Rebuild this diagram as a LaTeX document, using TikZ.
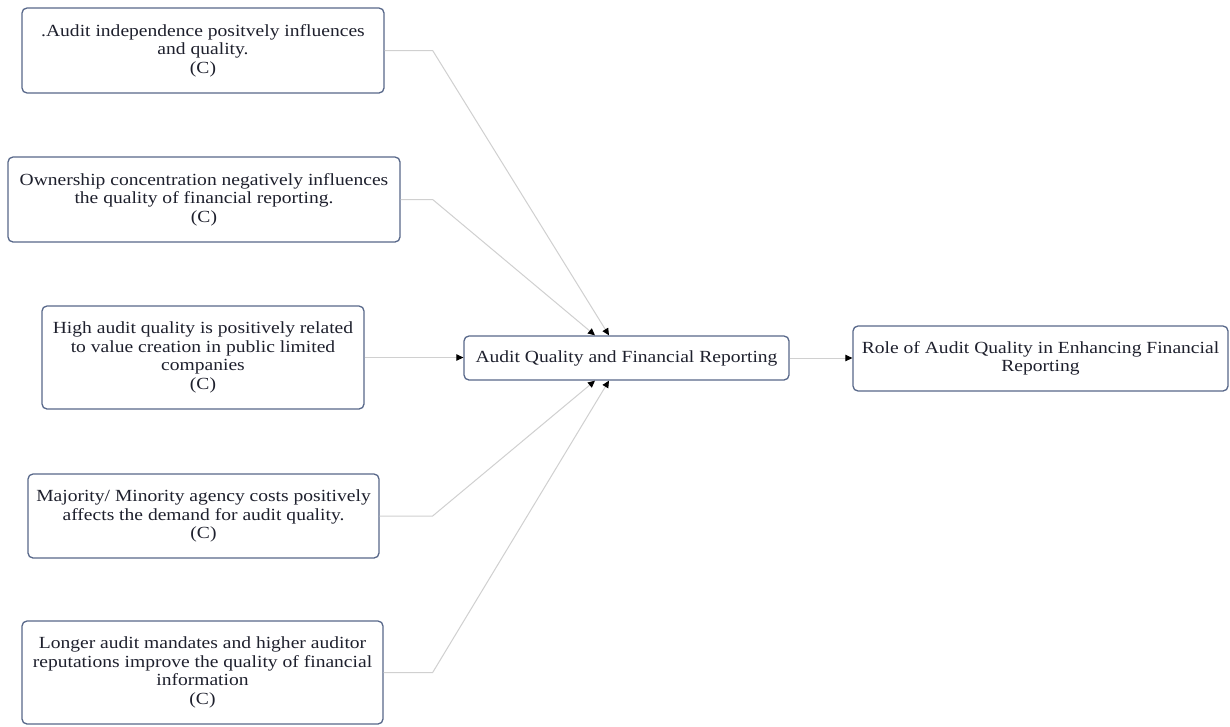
\documentclass[tikz,border=0pt]{standalone}
\usepackage{fontspec}
\setmainfont{Liberation Serif}[FakeStretch=1.15]
\usetikzlibrary{arrows.meta,calc}
\definecolor{boxblue}{RGB}{88,104,138}
\definecolor{linkgray}{RGB}{208,208,208}
\definecolor{inkgray}{RGB}{30,32,45}
\begin{document}
\begin{tikzpicture}[x=1pt,y=-1pt,
  box/.style={draw=boxblue, line width=1.3pt, rounded corners=5pt, fill=white,
    align=center, inner sep=0pt, text=inkgray,
    font=\fontsize{17}{18.5}\selectfont},
  link/.style={draw=linkgray, line width=1pt,
    -{Triangle[length=7pt,width=6.5pt,color=black,fill=black]}},
]
\useasboundingbox (0,0) rectangle (1230,726);
\fill[white] (0,0) rectangle (1230,726);

% findings
\node[box, minimum width=362pt, minimum height=85pt] (n1) at (203,50.5)
  {.Audit independence positvely influences\\ and quality.\\ (C)};
\node[box, minimum width=392pt, minimum height=85pt] (n2) at (204,199.5)
  {Ownership concentration negatively influences\\ the quality of financial reporting.\\ (C)};
\node[box, minimum width=322pt, minimum height=103pt] (n3) at (203,357.5)
  {High audit quality is positively related\\ to value creation in public limited\\ companies\\ (C)};
\node[box, minimum width=351pt, minimum height=84pt] (n4) at (203.5,516)
  {Majority/ Minority agency costs positively\\ affects the demand for audit quality.\\ (C)};
\node[box, minimum width=361pt, minimum height=103pt] (n5) at (202.5,672.5)
  {Longer audit mandates and higher auditor\\ reputations improve the quality of financial\\ information\\ (C)};

% central theme and outcome
\node[box, minimum width=325pt, minimum height=44pt] (c) at (626.5,358)
  {Audit Quality and Financial Reporting};
\node[box, minimum width=375pt, minimum height=65pt] (r) at (1040.5,358.5)
  {Role of Audit Quality in Enhancing Financial\\ Reporting};

% connectors
\draw[link] (n1.east) -- ++(48,0) -- ($(c.north)+(-17.5,0)$);
\draw[link] (n2.east) -- ++(32,0) -- ($(c.north)+(-31.5,0)$);
\draw[link] (n3.east) -- (n3.east -| c.west);
\draw[link] (n4.east) -- ++(53,0) -- ($(c.south)+(-31.5,0)$);
\draw[link] (n5.east) -- ++(49,0) -- ($(c.south)+(-17.5,0)$);
\draw[link] (c.east) -- (c.east -| r.west);
\end{tikzpicture}
\end{document}
